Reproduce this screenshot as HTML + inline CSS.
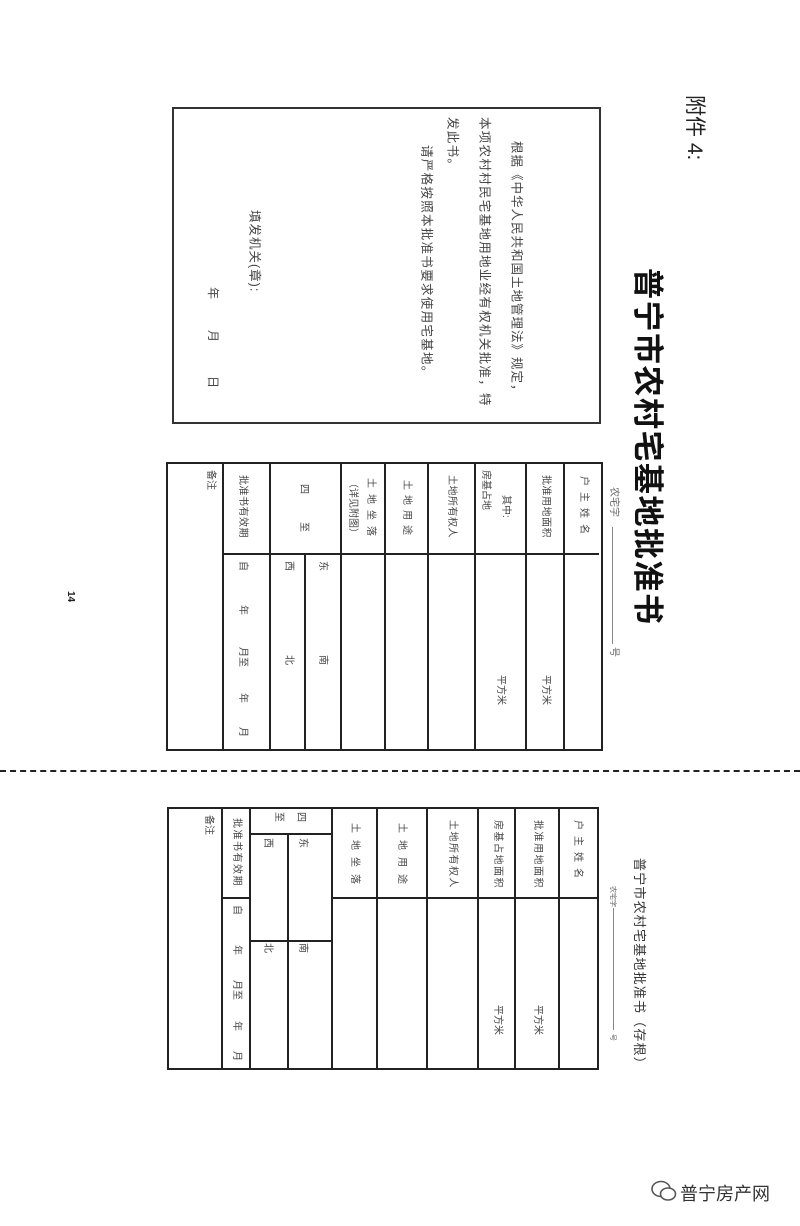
<!DOCTYPE html>
<html><head><meta charset="utf-8"><style>
html,body{margin:0;padding:0;background:#fff}
body{width:800px;height:1226px;position:relative;overflow:hidden;font-family:"Liberation Sans","Noto Sans CJK SC",sans-serif;color:#444}
.l{position:absolute;background:#222}
.v{position:absolute;writing-mode:vertical-rl;text-orientation:sideways;line-height:1;white-space:nowrap;font-size:10px;color:#444}
</style></head><body>
<!-- top box -->
<div style="position:absolute;left:172px;top:107px;width:425px;height:313px;border:2px solid #333"></div>
<div class="v" style="left:684px;top:95px;font-size:21px;color:#222">附件 4:</div>
<div class="v" style="left:632px;top:268px;font-size:31px;font-weight:bold;color:#111;letter-spacing:1.5px">普宁市农村宅基地批准书</div>
<div class="v" style="left:510px;top:141px;font-size:12.5px;letter-spacing:1px">根据《中华人民共和国土地管理法》规定，</div>
<div class="v" style="left:478px;top:117px;font-size:12.5px;letter-spacing:1.3px">本项农村村民宅基地用地业经有权机关批准，特</div>
<div class="v" style="left:446px;top:117px;font-size:12.5px;letter-spacing:1.3px">发此书。</div>
<div class="v" style="left:420px;top:145px;font-size:12.5px;letter-spacing:1.3px">请严格按照本批准书要求使用宅基地。</div>
<div class="v" style="left:248px;top:210px;font-size:12.5px;letter-spacing:1px">填发机关(章):</div>
<div class="v" style="left:207px;top:287px;font-size:12px">年</div>
<div class="v" style="left:207px;top:330px;font-size:12px">月</div>
<div class="v" style="left:207px;top:376px;font-size:12px">日</div>

<!-- upper table -->
<div style="position:absolute;left:166px;top:462px;width:433px;height:285px;border:2px solid #222"></div>
<div class="l" style="left:222px;top:553px;width:377px;height:2px"></div>
<div class="l" style="left:222px;top:462px;width:2px;height:287px"></div>
<div class="l" style="left:269px;top:462px;width:2px;height:287px"></div>
<div class="l" style="left:340px;top:462px;width:2px;height:287px"></div>
<div class="l" style="left:384px;top:462px;width:2px;height:287px"></div>
<div class="l" style="left:427px;top:462px;width:2px;height:287px"></div>
<div class="l" style="left:474px;top:462px;width:2px;height:287px"></div>
<div class="l" style="left:525px;top:462px;width:2px;height:287px"></div>
<div class="l" style="left:563px;top:462px;width:2px;height:287px"></div>
<div class="l" style="left:304px;top:553px;width:2px;height:196px"></div>
<div class="v" style="left:608px;top:487px;font-size:10px;color:#666">农宅字</div>
<div class="l" style="left:612px;top:527px;width:1px;height:117px;background:#888"></div>
<div class="v" style="left:608px;top:647px;font-size:10px;color:#666">号</div>
<div class="v" style="left:578px;top:476px;letter-spacing:6px">户主姓名</div>
<div class="v" style="left:540px;top:475px;letter-spacing:0.5px">批准用地面积</div>
<div class="v" style="left:540px;top:675px">平方米</div>
<div class="v" style="left:500px;top:495px">其中:</div>
<div class="v" style="left:480px;top:470px">房基占地</div>
<div class="v" style="left:495px;top:675px">平方米</div>
<div class="v" style="left:446px;top:475px;letter-spacing:0.5px">土地所有权人</div>
<div class="v" style="left:401px;top:480px;letter-spacing:5px">土地用途</div>
<div class="v" style="left:365px;top:478px;letter-spacing:6px">土地坐落</div>
<div class="v" style="left:347px;top:478px">（详见附图）</div>
<div class="v" style="left:298px;top:484px">四</div>
<div class="v" style="left:298px;top:522px">至</div>
<div class="v" style="left:237px;top:475px;letter-spacing:0.5px">批准书有效期</div>
<div class="v" style="left:237px;top:561px">自</div>
<div class="v" style="left:237px;top:605px">年</div>
<div class="v" style="left:237px;top:647px">月至</div>
<div class="v" style="left:237px;top:693px">年</div>
<div class="v" style="left:237px;top:727px">月</div>
<div class="v" style="left:317px;top:561px">东</div>
<div class="v" style="left:317px;top:655px">南</div>
<div class="v" style="left:283px;top:561px">西</div>
<div class="v" style="left:283px;top:655px">北</div>
<div class="v" style="left:205px;top:470px">备注</div>

<div class="v" style="left:65px;top:591px;font-size:10px;font-weight:bold;color:#222">14</div>

<!-- dashed -->
<div style="position:absolute;left:0;top:770px;width:800px;height:0;border-top:2px dashed #222"></div>

<!-- lower table -->
<div style="position:absolute;left:167px;top:807px;width:428px;height:259px;border:2px solid #222"></div>
<div class="l" style="left:332px;top:897px;width:265px;height:2px"></div>
<div class="l" style="left:221px;top:897px;width:30px;height:2px"></div>
<div class="l" style="left:250px;top:833px;width:83px;height:2px"></div>
<div class="l" style="left:250px;top:940px;width:83px;height:2px"></div>
<div class="l" style="left:221px;top:807px;width:2px;height:261px"></div>
<div class="l" style="left:249px;top:807px;width:2px;height:261px"></div>
<div class="l" style="left:287px;top:833px;width:2px;height:235px"></div>
<div class="l" style="left:331px;top:807px;width:2px;height:261px"></div>
<div class="l" style="left:376px;top:807px;width:2px;height:261px"></div>
<div class="l" style="left:426px;top:807px;width:2px;height:261px"></div>
<div class="l" style="left:477px;top:807px;width:2px;height:261px"></div>
<div class="l" style="left:514px;top:807px;width:2px;height:261px"></div>
<div class="l" style="left:558px;top:807px;width:2px;height:261px"></div>
<div class="v" style="left:633px;top:858px;font-size:13px;letter-spacing:1.2px;color:#333">普宁市农村宅基地批准书（存根）</div>
<div class="v" style="left:609px;top:886px;font-size:7px;color:#666">农宅字</div>
<div class="l" style="left:613px;top:908px;width:1px;height:122px;background:#888"></div>
<div class="v" style="left:609px;top:1034px;font-size:7px;color:#666">号</div>
<div class="v" style="left:572px;top:820px;letter-spacing:6px">户主姓名</div>
<div class="v" style="left:532px;top:820px;letter-spacing:1.5px">批准用地面积</div>
<div class="v" style="left:532px;top:1005px">平方米</div>
<div class="v" style="left:492px;top:820px;letter-spacing:1.5px">房基占地面积</div>
<div class="v" style="left:492px;top:1005px">平方米</div>
<div class="v" style="left:447px;top:820px;letter-spacing:1.5px">土地所有权人</div>
<div class="v" style="left:396px;top:823px;letter-spacing:7px">土地用途</div>
<div class="v" style="left:349px;top:823px;letter-spacing:7px">土地坐落</div>
<div class="v" style="left:295px;top:812px">四</div>
<div class="v" style="left:273px;top:812px">至</div>
<div class="v" style="left:297px;top:838px">东</div>
<div class="v" style="left:297px;top:943px">南</div>
<div class="v" style="left:262px;top:838px">西</div>
<div class="v" style="left:262px;top:943px">北</div>
<div class="v" style="left:231px;top:818px;letter-spacing:1.5px">批准书有效期</div>
<div class="v" style="left:231px;top:905px">自</div>
<div class="v" style="left:231px;top:945px">年</div>
<div class="v" style="left:231px;top:980px">月至</div>
<div class="v" style="left:231px;top:1021px">年</div>
<div class="v" style="left:231px;top:1051px">月</div>
<div class="v" style="left:203px;top:815px">备注</div>

<!-- watermark -->
<svg style="position:absolute;left:650px;top:1180px" width="28" height="22" viewBox="0 0 28 22">
<ellipse cx="11" cy="9" rx="9" ry="7.5" fill="none" stroke="#555" stroke-width="1.6"/>
<ellipse cx="18" cy="14" rx="7.5" ry="6" fill="#fff" stroke="#555" stroke-width="1.6"/>
</svg>
<div style="position:absolute;left:680px;top:1180px;font-size:18px;color:#333;font-family:'Liberation Sans','Noto Sans CJK SC',sans-serif">普宁房产网</div>
</body></html>
